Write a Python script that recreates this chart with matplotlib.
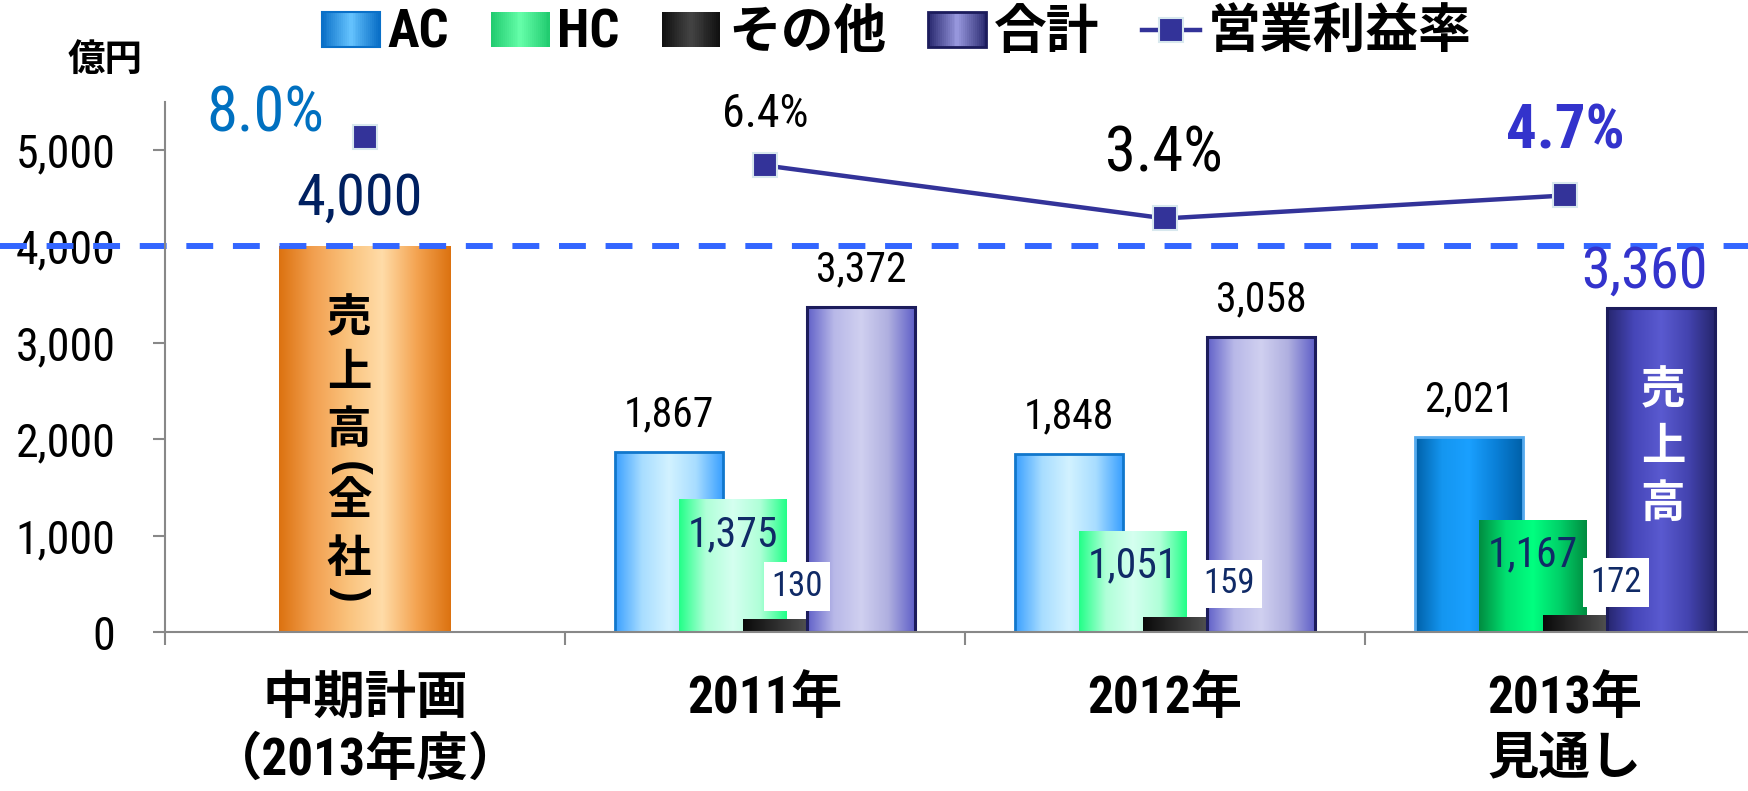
import numpy as np
import matplotlib
matplotlib.use('Agg')
import matplotlib.pyplot as plt
from matplotlib import font_manager
from matplotlib.colors import LinearSegmentedColormap
from matplotlib.legend_handler import HandlerBase
from matplotlib.patches import Rectangle, Patch
from matplotlib.lines import Line2D
from matplotlib.font_manager import FontProperties

# ---- data ----
categories = ['中期計画\n（2013年度）', '2011年', '2012年', '2013年\n見通し']
plan_sales = 4000
ac_sales = [1867, 1848, 2021]
hc_sales = [1375, 1051, 1167]
other_sales = [130, 159, 172]
total_sales = [3372, 3058, 3360]
op_margin = [8.0, 6.4, 3.4, 4.7]
legend_labels = ['AC', 'HC', 'その他', '合計', '営業利益率']

# the numbers in the original are set in a narrow face; use one if present
installed = {f.name for f in font_manager.fontManager.ttflist}
NUM, SC = 'Liberation Sans', 0.86
for cand in ['Liberation Sans Narrow', 'Roboto Condensed', 'Open Sans Condensed',
             'Noto Sans Condensed', 'DejaVu Sans Condensed', 'Arial Narrow']:
    if cand in installed:
        NUM, SC = cand, 1.0
        break
JP = 'Noto Sans CJK JP'
plt.rcParams['font.family'] = [NUM, JP]


def fs(size):
    return size * SC


# gradient stops (left -> right across a bar)
ORANGE = ['#DC7210', '#F2A050', '#FAC27C', '#FFDCA8', '#F4A452', '#DC7210']
AC_LIGHT = ['#3AA0FF', '#A8DDFF', '#D2F2FF', '#A8DDFF', '#3AA0FF']
AC_DARK = ['#0060A8', '#1496F0', '#1AA0FF', '#0A80D8', '#0060A8']
HC_LIGHT = ['#22FF88', '#B0FFD8', '#D5FFF0', '#B0FFD8', '#22FF88']
HC_DARK = ['#008C40', '#00E070', '#00FF80', '#00D068', '#008C40']
OTHER = ['#0A0A0A', '#444444', '#888888']
TOT_LIGHT = ['#6060C8', '#B8B8E8', '#D0D0F0', '#B0B0E0', '#6060C8']
TOT_DARK = ['#26266E', '#4646B8', '#5A5AD0', '#4444B0', '#26266E']


def fill_gradient(ax, bars, stops_list, z):
    for bar, stops in zip(bars, stops_list):
        x0, w, h = bar.get_x(), bar.get_width(), bar.get_height()
        cmap = LinearSegmentedColormap.from_list('g', stops)
        im = ax.imshow(np.linspace(0, 1, 256)[None, :], cmap=cmap, aspect='auto',
                       extent=[x0, x0 + w, 0, h], zorder=z, interpolation='bilinear')
        im.set_clip_path(bar)


class GradHandler(HandlerBase):
    def __init__(self, stops, edge, lw):
        super().__init__()
        self.stops, self.edge, self.lw = stops, edge, lw

    def create_artists(self, legend, orig, xd, yd, width, height, fontsize, trans):
        cmap = LinearSegmentedColormap.from_list('h', self.stops)
        n = 30
        arts = [Rectangle((-xd + i * width / n, -yd), width / n * 1.1, height,
                          facecolor=cmap(i / (n - 1)), edgecolor='none', transform=trans)
                for i in range(n)]
        arts.append(Rectangle((-xd, -yd), width, height, facecolor='none',
                              edgecolor=self.edge, lw=self.lw, transform=trans))
        return arts


fig = plt.figure(figsize=(17.48, 7.91), dpi=100)
W, H = 1748, 791
ax = fig.add_axes([165 / W, (H - 632) / H, 1600 / W, 530.2 / H])

xc = np.arange(4)
xs = xc[1:]
bw = 0.27

# plan bar
plan = ax.bar(xc[0], plan_sales, 0.43, color='none', edgecolor='none', zorder=2.1)
fill_gradient(ax, plan, [ORANGE], 2)

ac = ax.bar(xs - 0.24, ac_sales, bw, color='none',
            edgecolor=['#1177CC', '#1177CC', '#55AAEE'], linewidth=2, zorder=3.1)
fill_gradient(ax, ac, [AC_LIGHT, AC_LIGHT, AC_DARK], 3)
hc = ax.bar(xs - 0.08, hc_sales, bw, color='none', edgecolor='none', zorder=4.1)
fill_gradient(ax, hc, [HC_LIGHT, HC_LIGHT, HC_DARK], 4)
ot = ax.bar(xs + 0.08, other_sales, bw, color='none', edgecolor='none', zorder=5.1)
fill_gradient(ax, ot, [OTHER] * 3, 5)
tot = ax.bar(xs + 0.24, total_sales, bw, color='none',
             edgecolor='#1C1C5C', linewidth=2.2, zorder=6.1)
fill_gradient(ax, tot, [TOT_LIGHT, TOT_LIGHT, TOT_DARK], 6)

# target line at plan level
ax.axhline(plan_sales, xmin=-165 / 1600, xmax=1.0, color='#3366FF', lw=4.3,
           dashes=(4.5, 3.3), clip_on=False, zorder=7)

# value labels
lab = dict(textcoords='offset pixels', ha='center', va='center', zorder=9)
ax.annotate(f'{plan_sales:,}', (xc[0], plan_sales), xytext=(-5, 47),
            fontsize=fs(42), color='#002060', **lab)
for xi, v in zip(xs - 0.24, ac_sales):
    ax.annotate(f'{v:,}', (xi, v), xytext=(0, 37), fontsize=fs(30), color='black', **lab)
for xi, v in zip(xs - 0.08, hc_sales):
    ax.annotate(f'{v:,}', (xi, v), xytext=(0, -35), fontsize=fs(30), color='#102A66', **lab)
for xi, v, dx in zip(xs + 0.08, other_sales, [0, 32, 19]):
    ax.annotate(f'{v:,}', (xi, v), xytext=(dx, 33), fontsize=fs(25), color='#102A66',
                bbox=dict(boxstyle='square,pad=0.22', fc='white', ec='none'), **lab)
for i, (xi, v) in enumerate(zip(xs + 0.24, total_sales)):
    if i == 2:
        ax.annotate(f'{v:,}', (xi, v), xytext=(-17, 36), fontsize=fs(42),
                    color='#3333CC', **lab)
    else:
        ax.annotate(f'{v:,}', (xi, v), xytext=(0, 37), fontsize=fs(30), color='black', **lab)

# vertical text inside bars (parentheses turned to sit in a vertical line)
for ch, dy in zip('売上高(全社)', [-72, -127, -184, -222, -255, -313, -348]):
    rot = -90 if ch in '()' else 0
    ax.annotate(ch, (xc[0], plan_sales), xytext=(-16, dy), fontsize=32, rotation=rot,
                rotation_mode='anchor', fontweight='bold', color='black',
                family=['Liberation Sans', JP] if rot else JP, **lab)
for ch, dy in zip('売上高', [-82, -139, -196]):
    ax.annotate(ch, (xs[-1] + 0.24, total_sales[-1]), xytext=(2, dy), fontsize=32,
                fontweight='bold', color='white', family=JP, **lab)

# axes styling
ax.set_xlim(-0.5, 3.5)
ax.set_ylim(0, 5500)
ax.set_yticks(np.arange(0, 5001, 1000))
ax.set_yticklabels([f'{t:,}' for t in range(0, 5001, 1000)])
ax.tick_params(axis='y', length=8.6, width=1.5, color='#888888', pad=27, labelsize=fs(33))
ax.set_xticks(xc)
ax.set_xticklabels(categories, fontsize=37, fontweight='bold', linespacing=1.3)
ax.set_xticks(np.arange(-0.5, 3.6, 1), minor=True)
ax.tick_params(axis='x', which='major', length=0, pad=30)
ax.tick_params(axis='x', which='minor', length=9.4, width=1.5, color='#888888')
for s in ['top', 'right']:
    ax.spines[s].set_visible(False)
for s in ['left', 'bottom']:
    ax.spines[s].set_color('#888888')
    ax.spines[s].set_linewidth(1.5)
    ax.spines[s].set_zorder(8)

# operating margin on secondary scale
ax2 = ax.twinx()
ax2.set_ylim(-20, 10)
ax2.axis('off')
mk = dict(marker='s', ms=17, mfc='#333399', mec='#D8E8EE', mew=1.5)
ax2.plot(xs, op_margin[1:], color='#333399', lw=3.2, zorder=10, **mk)
ax2.plot(xc[:1], op_margin[:1], ls='none', zorder=10, **mk)
pct_style = [((-100, 23), 45, '#0070C0', 'normal'),
             ((0, 51), 33, 'black', 'normal'),
             ((-1, 64), 45, 'black', 'normal'),
             ((0, 64), 44, '#3333CC', 'bold')]
for xi, v, (off, size, col, wt) in zip(xc, op_margin, pct_style):
    ax2.annotate(f'{v:.1f}%', (xi, v), xytext=off, fontsize=fs(size), color=col,
                 fontweight=wt, **lab)

fig.text(105 / W, 1 - 59 / H, '億円', fontsize=27, fontweight='bold', family=JP,
         ha='center', va='center')

# legend
handles = [Patch(label=l) for l in legend_labels[:4]]
line_h = Line2D([], [], color='#333399', lw=3.2, **mk)
hmap = {handles[0]: GradHandler(['#0A70C8', '#66C4FF', '#0A70C8'], '#0A70C8', 1.5),
        handles[1]: GradHandler(['#22CC70', '#66FFAA', '#22CC70'], '#22CC70', 0),
        handles[2]: GradHandler(['#111111', '#444444', '#111111'], '#111111', 0),
        handles[3]: GradHandler(['#2A2A70', '#9A9AE0', '#2A2A70'], '#1C1C5C', 2)}
fig.legend(handles + [line_h], legend_labels, loc='center', bbox_to_anchor=(0.513, 0.958),
           ncol=5, frameon=False, handler_map=hmap,
           prop=FontProperties(family=[NUM, JP], weight='bold', size=38),
           handlelength=1.1, handleheight=0.65, handletextpad=0.15,
           columnspacing=0.8, borderaxespad=0)

fig.savefig('out.png', dpi=100)
